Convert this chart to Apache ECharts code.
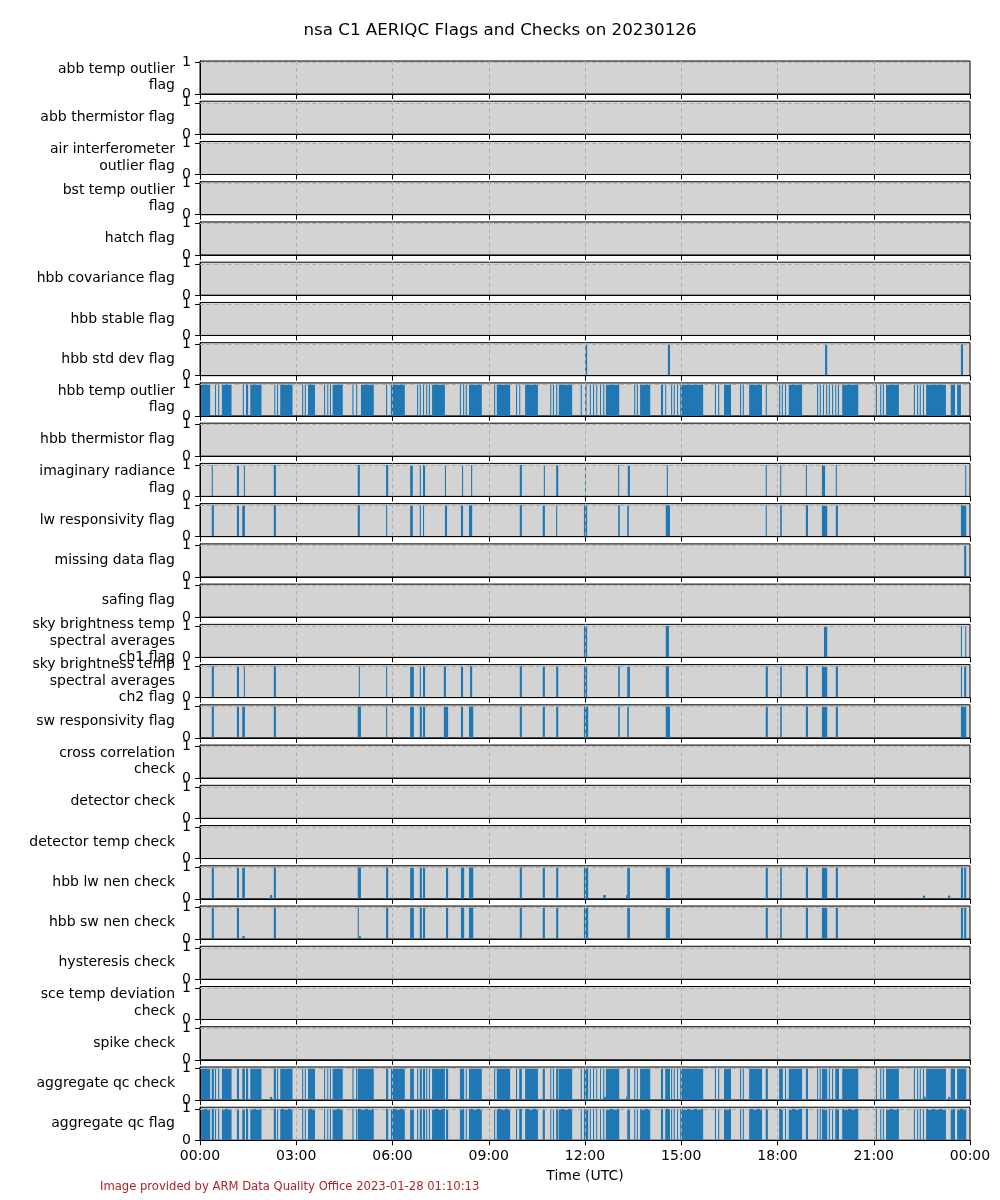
<!DOCTYPE html>
<html><head><meta charset="utf-8">
<script src="https://cdn.jsdelivr.net/npm/echarts@6/dist/echarts.min.js"></script>
<style>html,body{margin:0;padding:0;background:#fff}#c{width:1000px;height:1200px}</style>
</head><body><div id="c"></div>
<script>
// Row labels (top to bottom)
const rowLabels = [
  'abb temp outlier\nflag','abb thermistor flag','air interferometer\noutlier flag','bst temp outlier\nflag',
  'hatch flag','hbb covariance flag','hbb stable flag','hbb std dev flag','hbb temp outlier\nflag',
  'hbb thermistor flag','imaginary radiance\nflag','lw responsivity flag','missing data flag','safing flag',
  'sky brightness temp\nspectral averages\nch1 flag','sky brightness temp\nspectral averages\nch2 flag',
  'sw responsivity flag','cross correlation\ncheck','detector check','detector temp check',
  'hbb lw nen check','hbb sw nen check','hysteresis check','sce temp deviation\ncheck','spike check',
  'aggregate qc check','aggregate qc flag'
];
// x tick labels (minutes of day, every 3 h)
const xTickLabels = ['00:00','03:00','06:00','09:00','12:00','15:00','18:00','21:00','00:00'];
const yTickValues = [0, 1];

// Flag intervals: [start minute, end minute, (value, default 1)]
const abbTempOutlierFlag = [];
const abbThermistorFlag = [];
const airInterferometerOutlierFlag = [];
const bstTempOutlierFlag = [];
const hatchFlag = [];
const hbbCovarianceFlag = [];
const hbbStableFlag = [];
const hbbStdDevFlag = [[720,724],[875,879],[1169,1173],[1423,1427]];
const hbbTempOutlierFlag = [[2,19],[28,30],[34,36],[41,59],[80,82],[86,90],[94,115],[139,141],[144,146],[150,173],[191,193],[196,198],[202,215],[232,234],[238,239],[243,245],[248,267],[285,287],[292,294],[301,325],[348,350],[357,383],[406,408],[411,413],[417,419],[423,425],[428,430],[434,458],[486,488],[492,494],[497,499],[503,527],[550,552],[555,580],[591,593],[597,598],[608,632],[655,656],[660,662],[666,668],[671,696],[712,714],[720,723],[729,731],[735,737],[741,742],[748,750],[754,756],[759,784],[812,814],[817,819],[823,842],[862,866],[870,871],[881,883],[886,888],[892,894],[898,941],[963,965],[969,971],[980,993],[1010,1012],[1015,1017],[1027,1051],[1058,1060],[1083,1085],[1088,1090],[1094,1096],[1101,1126],[1154,1156],[1159,1161],[1165,1167],[1171,1173],[1176,1178],[1182,1184],[1188,1189],[1193,1195],[1201,1231],[1264,1266],[1272,1274],[1277,1279],[1283,1307],[1335,1337],[1341,1343],[1346,1348],[1352,1354],[1358,1395],[1404,1412],[1416,1423]];
const hbbThermistorFlag = [];
const imaginaryRadianceFlag = [[22,24],[69,73],[82,84],[138,142],[295,299],[348,352],[393,398],[411,413],[417,421],[458,460],[490,492],[507,509],[598,602],[643,645],[666,670],[720,721],[782,784],[800,804],[873,875],[1058,1060],[1085,1087],[1133,1135],[1163,1169],[1189,1191],[1431,1433]];
const lwResponsivityFlag = [[22,26],[69,73],[79,84],[138,142],[295,299],[348,350],[393,398],[411,413],[417,419],[458,462],[488,492],[503,509],[598,602],[641,645],[666,668],[718,724],[782,785],[799,802],[871,879],[1058,1060],[1085,1088],[1133,1137],[1163,1173],[1189,1193],[1423,1433]];
const missingDataFlag = [[1429,1433]];
const safingFlag = [];
const skyBrightnessCh1Flag = [[718,724],[871,877],[1167,1173],[1423,1424],[1431,1432]];
const skyBrightnessCh2Flag = [[22,26],[69,73],[82,84],[138,142],[297,299],[348,350],[393,400],[411,413],[417,421],[456,460],[488,492],[505,509],[598,602],[641,645],[666,670],[718,724],[782,785],[799,804],[871,877],[1058,1062],[1085,1088],[1133,1137],[1163,1173],[1189,1193],[1423,1425],[1429,1433]];
const swResponsivityFlag = [[22,26],[69,73],[79,84],[138,142],[295,301],[348,350],[393,400],[411,415],[417,421],[456,464],[488,492],[503,511],[598,602],[641,645],[666,670],[718,726],[782,785],[799,802],[871,879],[1058,1062],[1085,1088],[1133,1137],[1163,1173],[1189,1193],[1423,1433]];
const crossCorrelationCheck = [];
const detectorCheck = [];
const detectorTempCheck = [];
const hbbLwNenCheck = [[22,26],[69,73],[79,84],[131,135,0.12],[138,142],[295,301],[348,352],[393,400],[411,415],[417,421],[460,464],[488,494],[503,511],[598,602],[641,645],[666,670],[718,726],[754,759,0.12],[797,799,0.12],[799,804],[871,879],[1058,1062],[1085,1088],[1133,1137],[1163,1173],[1189,1193],[1352,1356,0.1],[1399,1403,0.1],[1423,1427],[1429,1433]];
const hbbSwNenCheck = [[22,26],[69,73],[79,84,0.09],[138,142],[295,297],[297,301,0.09],[348,352],[393,400],[411,415],[417,421],[460,464],[488,494],[503,511],[598,602],[641,645],[666,670],[718,726],[799,804],[871,879],[1058,1062],[1085,1088],[1133,1137],[1163,1173],[1189,1193],[1423,1427],[1429,1433]];
const hysteresisCheck = [];
const sceTempDeviationCheck = [];
const spikeCheck = [];
const aggregateQcCheck = [[2,19],[22,26],[28,30],[34,36],[41,59],[69,73],[79,84],[86,90],[94,115],[131,135,0.1],[138,142],[144,146],[150,173],[191,193],[196,198],[202,215],[232,234],[238,239],[243,245],[248,267],[285,287],[292,294],[295,301],[301,325],[348,352],[357,383],[393,400],[406,408],[411,415],[417,421],[423,425],[428,430],[434,458],[460,464],[486,488],[488,494],[497,499],[503,527],[550,552],[555,580],[591,593],[597,602],[608,632],[641,645],[655,656],[660,662],[666,670],[671,696],[712,714],[718,726],[729,731],[735,737],[741,742],[748,750],[754,756],[756,760,0.1],[759,784],[797,799,0.1],[799,804],[812,814],[817,819],[823,842],[862,866],[870,879],[881,883],[886,888],[892,894],[898,941],[963,965],[969,971],[980,993],[1010,1012],[1015,1017],[1027,1051],[1058,1062],[1083,1090],[1094,1096],[1101,1126],[1133,1137],[1154,1156],[1159,1161],[1163,1173],[1176,1178],[1182,1184],[1188,1195],[1201,1231],[1264,1266],[1272,1274],[1277,1279],[1283,1307],[1335,1337],[1341,1343],[1346,1348],[1352,1354],[1354,1357,0.1],[1358,1395],[1399,1403,0.1],[1404,1412],[1416,1433]];
const aggregateQcFlag = [[2,19],[22,26],[28,30],[34,36],[41,59],[69,73],[79,84],[86,90],[94,115],[138,142],[144,146],[150,173],[191,193],[196,198],[202,215],[232,234],[238,239],[243,245],[248,267],[285,287],[292,294],[295,301],[301,325],[348,352],[357,383],[393,400],[406,408],[411,415],[417,421],[423,425],[428,430],[434,458],[460,464],[486,488],[488,494],[497,499],[503,527],[550,552],[555,580],[591,593],[597,602],[608,632],[641,645],[655,656],[660,662],[666,670],[671,696],[712,714],[718,726],[729,731],[735,737],[741,742],[748,750],[754,756],[759,784],[799,804],[812,814],[817,819],[823,842],[862,866],[870,879],[881,883],[886,888],[892,894],[898,941],[963,965],[969,971],[980,993],[1010,1012],[1015,1017],[1027,1051],[1058,1062],[1083,1090],[1094,1096],[1101,1126],[1133,1137],[1154,1156],[1159,1161],[1163,1173],[1176,1178],[1182,1184],[1188,1195],[1201,1231],[1264,1266],[1272,1274],[1277,1279],[1283,1307],[1335,1337],[1341,1343],[1346,1348],[1352,1354],[1358,1395],[1404,1412],[1416,1433]];

const rows = [abbTempOutlierFlag,abbThermistorFlag,airInterferometerOutlierFlag,bstTempOutlierFlag,hatchFlag,
  hbbCovarianceFlag,hbbStableFlag,hbbStdDevFlag,hbbTempOutlierFlag,hbbThermistorFlag,imaginaryRadianceFlag,
  lwResponsivityFlag,missingDataFlag,safingFlag,skyBrightnessCh1Flag,skyBrightnessCh2Flag,swResponsivityFlag,
  crossCorrelationCheck,detectorCheck,detectorTempCheck,hbbLwNenCheck,hbbSwNenCheck,hysteresisCheck,
  sceTempDeviationCheck,spikeCheck,aggregateQcCheck,aggregateQcFlag];

const FONT = 'DejaVu Sans';
const N = rows.length;
const TOP0 = 61, STEP = 40.24, H = 33, LEFT = 200, RIGHT = 30;
const grids = [], xAxes = [], yAxes = [], series = [];

function renderItem(params, api) {
  const s = api.value(0), e = api.value(1), v = api.value(2);
  const p0 = api.coord([s, 0]);
  const p1 = api.coord([e, v]);
  return {
    type: 'rect',
    shape: { x: p0[0], y: p1[1], width: Math.max(p1[0] - p0[0], 1), height: p0[1] - p1[1] },
    style: { fill: '#1f77b4' }
  };
}

for (let i = 0; i < N; i++) {
  const last = i === N - 1;
  grids.push({
    left: LEFT, right: RIGHT, top: TOP0 + i * STEP, height: H,
    show: true, backgroundColor: '#d3d3d3', borderColor: '#000', borderWidth: 1,
    containLabel: false, outerBoundsMode: 'none'
  });
  xAxes.push({
    type: 'value', gridIndex: i, min: 0, max: 1440, interval: 180, z: 3,
    axisLine: { show: true, onZero: false, lineStyle: { color: '#000', width: 1 } },
    axisTick: { show: true, length: 5, lineStyle: { color: '#000', width: 1 } },
    splitLine: { show: true, showMinLine: false, showMaxLine: false, lineStyle: { color: '#b0b0b0', type: [4, 3], width: 1 } },
    axisLabel: { show: last, margin: 9, fontFamily: FONT, fontSize: 14, color: '#000',
      formatter: v => xTickLabels[Math.round(v / 180)] },
    name: last ? 'Time (UTC)' : '', nameLocation: 'middle', nameGap: 29,
    nameTextStyle: { fontFamily: FONT, fontSize: 14, color: '#000' }
  });
  yAxes.push({
    type: 'value', gridIndex: i, min: 0, max: 1.05, interval: 1, z: 3,
    axisLine: { show: true, onZero: false, lineStyle: { color: '#000', width: 1 } },
    axisTick: { show: true, length: 5, customValues: yTickValues, lineStyle: { color: '#000', width: 1 } },
    splitLine: { show: false },
    axisLabel: { show: true, margin: 9, customValues: yTickValues, fontFamily: FONT, fontSize: 14, color: '#000',
      formatter: v => String(v) },
    name: rowLabels[i], nameLocation: 'middle', nameRotate: 0, nameGap: 25,
    nameTextStyle: { fontFamily: FONT, fontSize: 14, color: '#000', align: 'right', verticalAlign: 'middle', lineHeight: 16.5 }
  });
  series.push({
    type: 'custom', xAxisIndex: i, yAxisIndex: i, z: 2, silent: true,
    renderItem: renderItem,
    encode: { x: [0, 1], y: 2 },
    data: rows[i].map(d => [d[0], d[1], d.length > 2 ? d[2] : 1]),
    markLine: {
      silent: true, symbol: 'none', animation: false, label: { show: false },
      lineStyle: { color: '#b0b0b0', type: [4, 3], width: 1 },
      data: [{ yAxis: 1 }]
    }
  });
}

const chart = echarts.init(document.getElementById('c'), null, { renderer: 'canvas' });
chart.setOption({
  animation: false,
  backgroundColor: '#ffffff',
  title: [
    { text: 'nsa C1 AERIQC Flags and Checks on 20230126', left: 'center', top: 22, padding: 0,
      textStyle: { fontFamily: FONT, fontSize: 16.7, fontWeight: 'normal', color: '#000' } },
    { text: 'Image provided by ARM Data Quality Office 2023-01-28 01:10:13', left: 100, top: 1181, padding: 0,
      textStyle: { fontFamily: FONT, fontSize: 11.6, fontWeight: 'normal', color: '#b22222' } }
  ],
  grid: grids, xAxis: xAxes, yAxis: yAxes, series: series
});
</script></body></html>
